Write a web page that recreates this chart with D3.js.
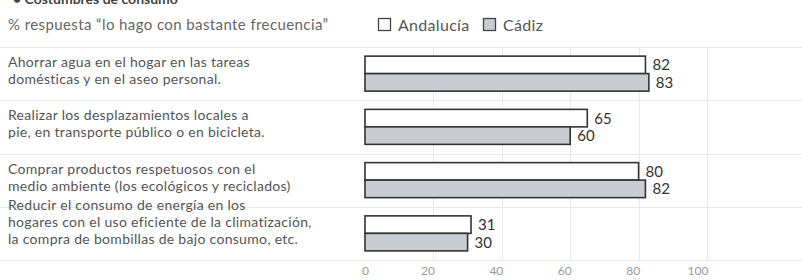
<!DOCTYPE html>
<html>
<head>
<meta charset="utf-8">
<script src="https://cdn.jsdelivr.net/npm/d3@7"></script>
<style>
  body { margin: 0; background: #fff; }
  svg { display: block; font-family: Lato, "Open Sans", sans-serif; }
</style>
</head>
<body>
<svg id="chart" width="802" height="280"></svg>
<script>
// data
const categories = [
  ["Ahorrar agua en el hogar en las tareas", "domésticas y en el aseo personal."],
  ["Realizar los desplazamientos locales a", "pie, en transporte público o en bicicleta."],
  ["Comprar productos respetuosos con el", "medio ambiente (los ecológicos y reciclados)"],
  ["Reducir el consumo de energía en los", "hogares con el uso eficiente de la climatización,", "la compra de bombillas de bajo consumo, etc."]
];
const series = ["Andalucía", "Cádiz"];
const andalucia = [82, 65, 80, 31];
const cadiz = [83, 60, 82, 30];
const xTicks = [0, 20, 40, 60, 80, 100];

const svg = d3.select("#chart");
const W = 802, H = 280;

const x = d3.scaleLinear().domain([0, 100]).range([365, 707]);
const y = d3.scaleBand().domain(d3.range(categories.length)).range([47, 260]);
const inner = d3.scaleBand().domain(series).range([0, 35]);
const fills = { "Andalucía": "#ffffff", "Cádiz": "#c9cdd2" };

// title (cut off at the top) and subtitle
svg.append("text").attr("x", 13).attr("y", 4)
  .attr("font-size", 14).attr("font-weight", "bold").attr("fill", "#444")
  .text("• Costumbres de consumo");
svg.append("text").attr("x", 8).attr("y", 30)
  .attr("font-size", 15).attr("letter-spacing", 0.4).attr("fill", "#666")
  .text("% respuesta “lo hago con bastante frecuencia”");

// legend
const leg = svg.append("g");
const legX = [378, 483];
series.forEach((s, i) => {
  leg.append("rect").attr("x", legX[i] + 0.5).attr("y", 18.5).attr("width", 12).attr("height", 12)
    .attr("fill", fills[s]).attr("stroke", "#444").attr("stroke-width", 1.3);
  leg.append("text").attr("x", legX[i] + 20).attr("y", 30.5)
    .attr("font-size", 16).attr("letter-spacing", 0.3).attr("fill", "#555").text(s);
});

// faint grid
const grid = svg.append("g").attr("stroke", "#e8e8e8").attr("stroke-width", 1);
y.domain().concat([categories.length]).forEach(i => {
  const yy = i < categories.length ? y(i) : y.range()[1];
  grid.append("line").attr("x1", 0).attr("x2", W)
    .attr("y1", Math.round(yy) + 0.5).attr("y2", Math.round(yy) + 0.5);
});
xTicks.slice(1).forEach(t => {
  grid.append("line").attr("x1", Math.round(x(t)) + 0.5).attr("x2", Math.round(x(t)) + 0.5)
    .attr("y1", y.range()[0]).attr("y2", y.range()[1]);
});

// category labels, last line aligned a little above the bottom of the bars
categories.forEach((lines, i) => {
  const last = y(i) + y.bandwidth() / 2 + 5.5;
  const top = last - (lines.length - 1) * 17;
  const t = svg.append("text").attr("font-size", 14).attr("letter-spacing", 0.3).attr("fill", "#555");
  lines.forEach((ln, j) => {
    t.append("tspan").attr("x", 8).attr("y", top + j * 17 + 5).text(ln);
  });
});

// bars
const rows = categories.map((c, i) => [
  { s: "Andalucía", v: andalucia[i], i },
  { s: "Cádiz", v: cadiz[i], i }
]).flat();

const barTop = d => y(d.i) + (y.bandwidth() - 35) / 2 + inner(d.s);

svg.append("g").selectAll("rect").data(rows).join("rect")
  .attr("x", x(0))
  .attr("y", barTop)
  .attr("width", d => x(d.v) - x(0))
  .attr("height", inner.bandwidth())
  .attr("fill", d => fills[d.s])
  .attr("stroke", "#333")
  .attr("stroke-width", 1.6);

svg.append("g").selectAll("text").data(rows).join("text")
  .attr("x", d => x(d.v) + 7)
  .attr("y", d => barTop(d) + inner.bandwidth() / 2 + 5.5)
  .attr("font-size", 15).attr("fill", "#333")
  .text(d => d.v);

// x axis labels
const axis = svg.append("g").attr("transform", "translate(0,262)")
  .call(d3.axisBottom(x).tickValues(xTicks).tickSize(0).tickPadding(4));
axis.select(".domain").remove();
axis.selectAll("text")
  .attr("font-family", "Lato, sans-serif")
  .attr("font-size", 12).attr("fill", "#999")
  .attr("text-anchor", d => d === 0 ? "middle" : "end")
  .attr("dx", d => d === 0 ? 0 : 1);
</script>
</body>
</html>
